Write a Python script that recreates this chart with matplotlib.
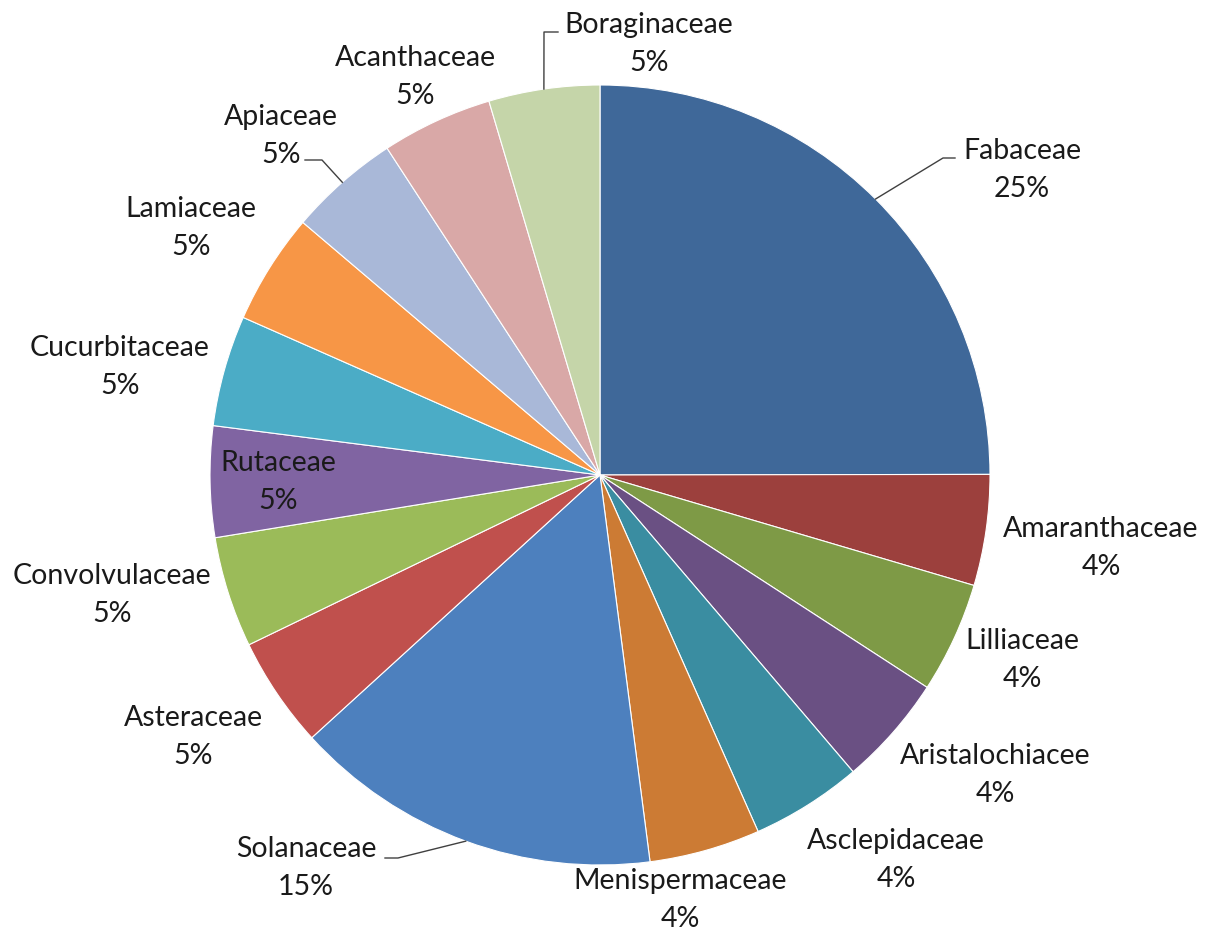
import numpy as np
import matplotlib.pyplot as plt

# plant families, clockwise from 12 o'clock
families = ['Fabaceae', 'Amaranthaceae', 'Lilliaceae', 'Aristalochiacee', 'Asclepidaceae',
            'Menispermaceae', 'Solanaceae', 'Asteraceae', 'Convolvulaceae', 'Rutaceae',
            'Cucurbitaceae', 'Lamiaceae', 'Apiaceae', 'Acanthaceae', 'Boraginaceae']
shares = [25, 4.6, 4.6, 4.6, 4.6, 4.6, 15.3, 4.6, 4.6, 4.6, 4.6, 4.6, 4.6, 4.6, 4.6]
pct_text = ['25%', '4%', '4%', '4%', '4%', '4%', '15%', '5%', '5%', '5%', '5%', '5%', '5%', '5%', '5%']
colors = ['#3F6899', '#9C403D', '#7E9A46', '#6A5083', '#3A8DA1', '#CC7B34', '#4D80BE',
          '#C0504D', '#9BBB59', '#8064A2', '#4BACC6', '#F79646', '#A9B8D8', '#D9A8A7', '#C5D5A9']

W, H = 1206, 930

# label centres in pixel coords (x, y from top)
label_pos = [(1022, 170), (1101, 548), (1022, 660), (995, 775), (896, 860),
             (680, 900), (306, 868), (193, 737), (112, 595), (278, 482),
             (120, 367), (191, 228), (281, 136), (415, 77), (649, 44)]
# leader lines: points after the wedge edge point
leaders = {
    'Fabaceae': [(943, 158), (955, 158)],
    'Solanaceae': [(398, 858), (385, 858)],
    'Apiaceae': [(322, 160), (305, 160)],
    'Boraginaceae': [(544, 32), (558, 32)],
}

fig = plt.figure(figsize=(W / 100, H / 100), dpi=100)
ax = fig.add_axes([0, 0, 1, 1])

cx, cy, r = 600, H - 475, 390
wedges, _ = ax.pie(shares, colors=colors, startangle=90, counterclock=False,
                   center=(cx, cy), radius=r,
                   wedgeprops=dict(edgecolor='white', linewidth=0.8))
ax.set_xlim(0, W)
ax.set_ylim(0, H)
ax.set_aspect('equal')
ax.axis('off')

for i, name in enumerate(families):
    lx, ly = label_pos[i]
    ax.text(lx, H - ly, name + '\n' + pct_text[i], ha='center', va='center',
            fontsize=20.5, family='Lato', color='#1a1a1a', linespacing=1.6)
    if name in leaders:
        w = wedges[i]
        mid = np.deg2rad((w.theta1 + w.theta2) / 2)
        xs = [cx + r * np.cos(mid)] + [p[0] for p in leaders[name]]
        ys = [cy + r * np.sin(mid)] + [H - p[1] for p in leaders[name]]
        ax.plot(xs, ys, color='#404040', lw=1)

fig.savefig('out.png', dpi=100)
